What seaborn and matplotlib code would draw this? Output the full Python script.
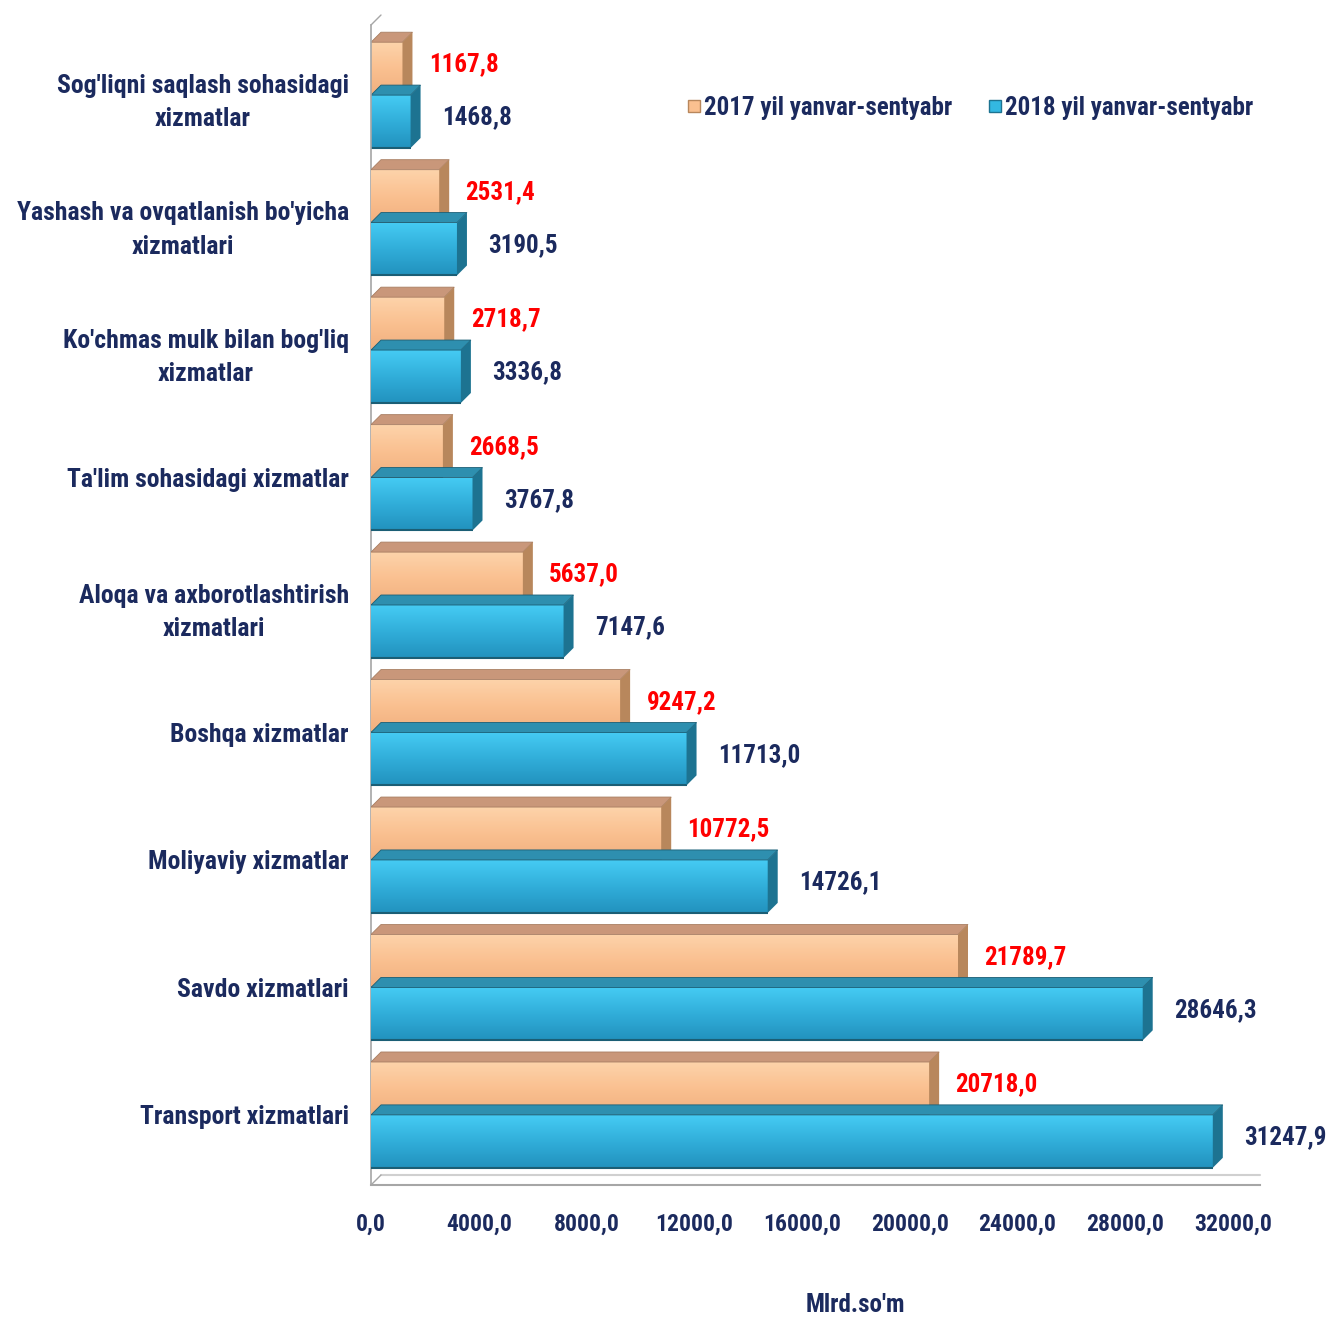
import numpy as np
import pandas as pd
import matplotlib.pyplot as plt
import matplotlib.colors as mcolors
from matplotlib.patches import Polygon
from matplotlib.lines import Line2D
import seaborn as sns

categories = ["Sog'liqni saqlash sohasidagi\nxizmatlar",
              "Yashash va ovqatlanish bo'yicha\nxizmatlari",
              "Ko'chmas mulk bilan bog'liq\nxizmatlar",
              "Ta'lim sohasidagi xizmatlar",
              "Aloqa va axborotlashtirish\nxizmatlari",
              "Boshqa xizmatlar",
              "Moliyaviy xizmatlar",
              "Savdo xizmatlari",
              "Transport xizmatlari"]
values_2017 = [1167.8, 2531.4, 2718.7, 2668.5, 5637.0, 9247.2, 10772.5, 21789.7, 20718.0]
values_2018 = [1468.8, 3190.5, 3336.8, 3767.8, 7147.6, 11713.0, 14726.1, 28646.3, 31247.9]
series = ["2017 yil yanvar-sentyabr", "2018 yil yanvar-sentyabr"]
xticks = np.arange(0, 32001, 4000)

front = {series[0]: "#FAC090", series[1]: "#33B8E2"}
grad = {series[0]: ("#FDD3AA", "#FAC090", "#F1B07F"),
        series[1]: ("#45CBF3", "#31AEDA", "#2292BE")}
top = {series[0]: "#C9977A", series[1]: "#2E8FAF"}
side = {series[0]: "#B8875C", series[1]: "#1D7391"}
edge = {series[0]: "#A87E62", series[1]: "#1B5E75"}
label_col = {series[0]: "#FF0000", series[1]: "#1B2A5E"}
navy = "#1B2A5E"
grey = "#A6A6A6"

sns.set_style("white")
plt.rcParams['font.family'] = ['Liberation Sans Narrow', 'Arial Narrow', 'Roboto Condensed',
                               'PT Sans Narrow', 'Archivo Narrow', 'DejaVu Sans']
plt.rcParams['font.weight'] = 'bold'

df = pd.DataFrame({
    "cat": categories * 2,
    "val": values_2017 + values_2018,
    "year": [series[0]] * 9 + [series[1]] * 9,
})

fig = plt.figure(figsize=(13.27, 13.18), dpi=100)
ax = fig.add_axes([371 / 1327, 1 - 1185 / 1318, 889 / 1327, 1160 / 1318])

sns.barplot(data=df, y="cat", x="val", hue="year", hue_order=series,
            palette=front, saturation=1, width=0.83, orient="y", legend=False, ax=ax,
            edgecolor="none", linewidth=0)

xlim = (0, 33000)
ylim = (8.55, -0.55)
ax.set_xlim(*xlim)
ax.set_ylim(*ylim)

# fake 3D depth: gradient front, top face and right side of each bar
px_x = (xlim[1] - xlim[0]) / ax.bbox.width
px_y = (ylim[0] - ylim[1]) / ax.bbox.height
dx, dy = 10 * px_x, 10 * px_y
bars = list(ax.patches)
for i, bar in enumerate(bars):
    name = series[0] if i < 9 else series[1]
    x0, y0 = bar.get_x(), bar.get_y()
    w, h = bar.get_width(), bar.get_height()
    z = 2 + (y0 + h) * 0.5
    bar.set_zorder(z)
    yt = y0            # top edge (inverted axis)
    yb = y0 + h
    cmap = mcolors.LinearSegmentedColormap.from_list("g", grad[name])
    img = ax.imshow(np.linspace(0, 1, 64).reshape(-1, 1), cmap=cmap, aspect="auto",
                    extent=[x0, x0 + w, yb, yt], origin="upper", zorder=z + 0.01,
                    interpolation="bilinear")
    img.set_clip_path(bar)
    ax.plot([x0, x0 + w], [yb, yb], color=edge[name], lw=1.5, zorder=z + 0.02,
            solid_capstyle="butt")
    ax.add_patch(Polygon([(x0, yt), (x0 + dx, yt - dy), (x0 + w + dx, yt - dy), (x0 + w, yt)],
                         closed=True, fc=top[name], ec=edge[name], lw=0.6, zorder=z + 0.03))
    ax.add_patch(Polygon([(x0 + w, yt), (x0 + w + dx, yt - dy), (x0 + w + dx, yb - dy), (x0 + w, yb)],
                         closed=True, fc=side[name], ec="none", zorder=z + 0.03))
    ax.annotate(f"{w:.1f}".replace(".", ","), (x0 + w, y0 + h / 2),
                xytext=(19 if i < 9 else 22.5, 3), textcoords="offset points",
                ha="left", va="center", fontsize=18, color=label_col[name],
                fontweight="bold", zorder=20)

ax.set_xlim(*xlim)
ax.set_ylim(*ylim)

# floor and wall edges
ax.plot([dx, xlim[1]], [ylim[0] - dy, ylim[0] - dy], color="#D0D0D0", lw=1.5, zorder=1, clip_on=False)
ax.plot([0, dx], [ylim[0], ylim[0] - dy], color=grey, lw=1, zorder=1, clip_on=False)
ax.plot([0, dx], [ylim[1], ylim[1] - dy], color=grey, lw=1, zorder=1, clip_on=False)

# axes styling
for s in ["top", "right"]:
    ax.spines[s].set_visible(False)
ax.spines["left"].set_color(grey)
ax.spines["bottom"].set_color(grey)
ax.spines["left"].set_linewidth(1.2)
ax.spines["bottom"].set_linewidth(1.5)

ax.set_xticks(xticks)
ax.set_xticklabels([f"{t:.1f}".replace(".", ",") for t in xticks], fontsize=17,
                   color=navy, fontweight="bold")
ax.tick_params(axis="x", direction="out", length=8, color=grey, pad=12)

ax.set_yticks(range(9))
ax.set_yticklabels(categories, fontsize=18.5, color=navy, fontweight="bold",
                   multialignment="center", linespacing=1.5)
ax.set_yticks(np.arange(-0.5, 9, 1), minor=True)
ax.tick_params(axis="y", which="major", length=0, pad=16)
ax.tick_params(axis="y", which="minor", length=5, color=grey, direction="out")
ax.set_xlabel("")
ax.set_ylabel("")

fig.text(855 / 1327, 1 - 1305 / 1318, "Mlrd.so'm", ha="center", va="center",
         fontsize=18, color=navy, fontweight="bold")

handles = [Line2D([], [], marker="s", ls="none", markersize=8,
                  markerfacecolor=front[s], markeredgecolor=side[s]) for s in series]
fig.legend(handles, series, loc="center left", bbox_to_anchor=(664 / 1327, 1 - 108 / 1318),
           ncol=2, frameon=False, fontsize=18, handlelength=0.6, handletextpad=0.1,
           columnspacing=1.4, labelcolor=navy)

fig.savefig("out.png", dpi=100, facecolor="white")
